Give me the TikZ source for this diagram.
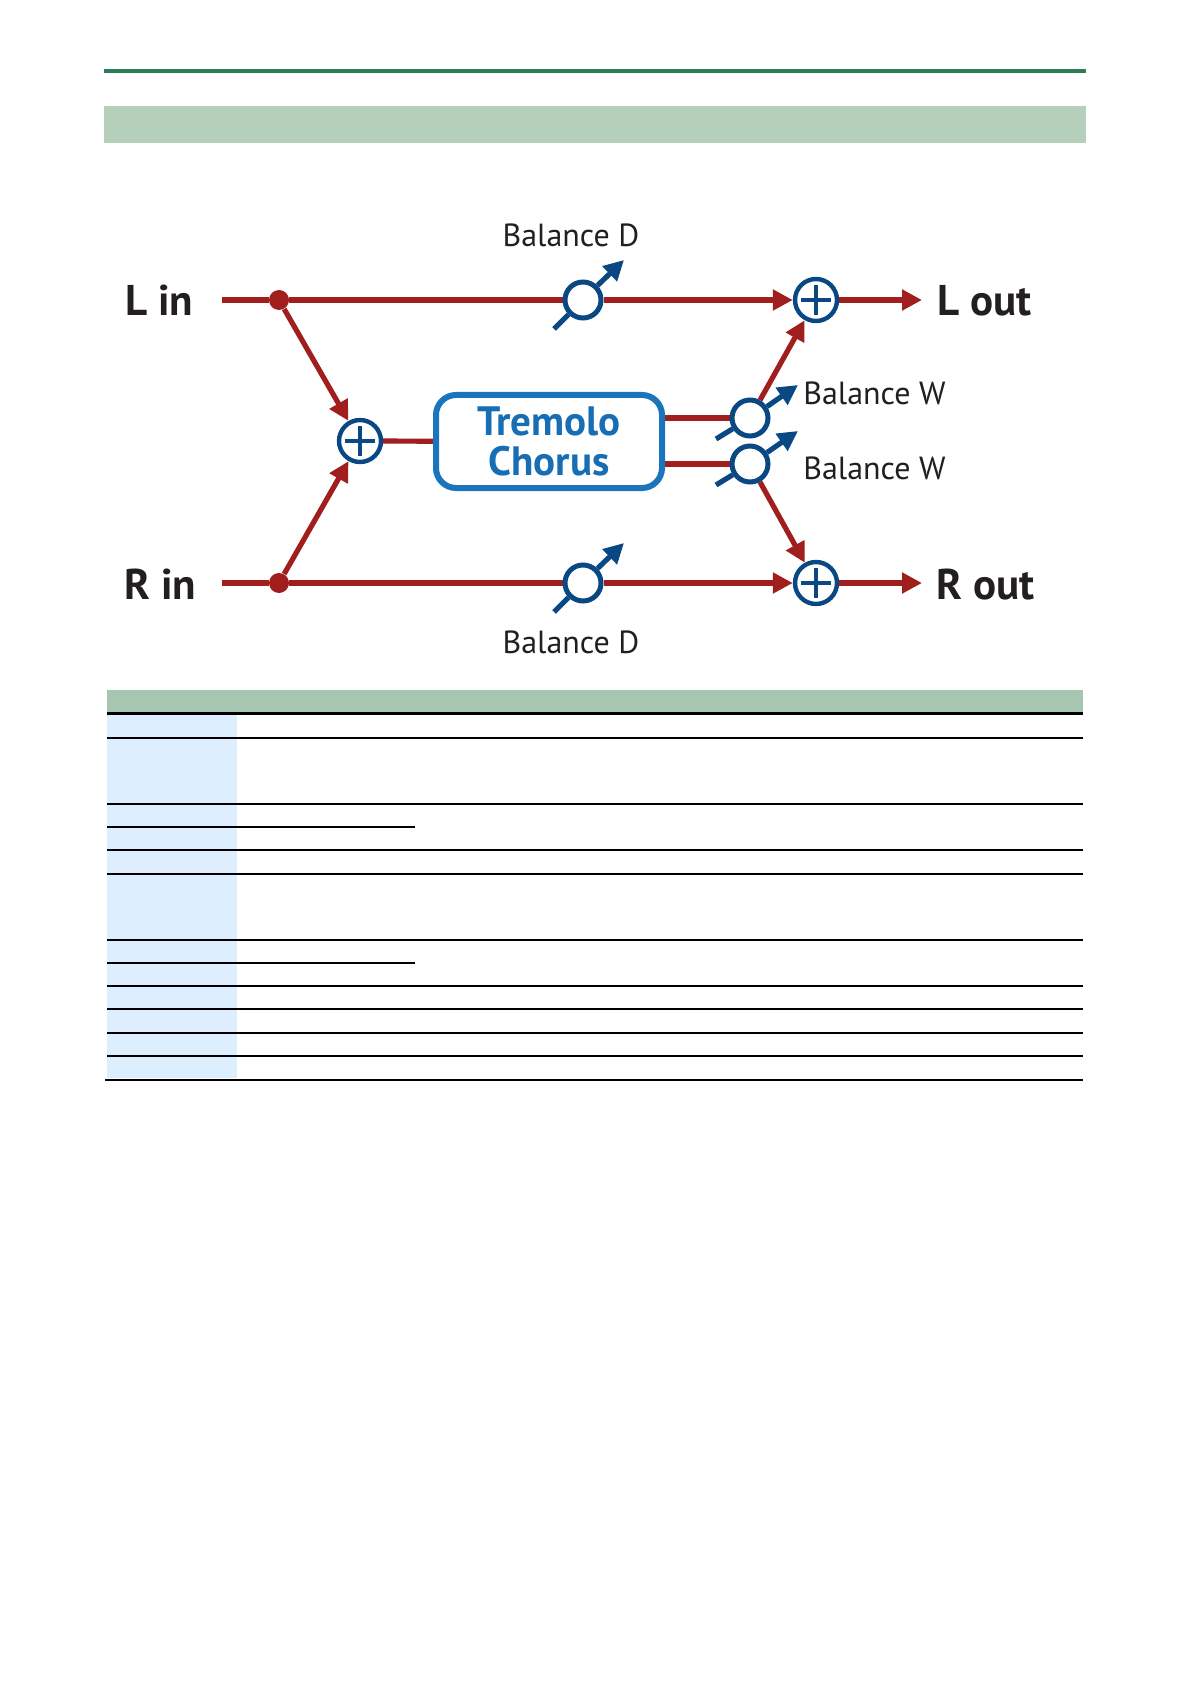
\documentclass[tikz,border=0pt]{standalone}
\usepackage{fontspec}
\setmainfont{PT Sans}
\usetikzlibrary{arrows.meta,calc}
\definecolor{greenrule}{RGB}{42,125,85}
\definecolor{headband}{RGB}{180,207,186}
\definecolor{tablehead}{RGB}{167,198,178}
\definecolor{leftcol}{RGB}{221,238,254}
\definecolor{sigred}{RGB}{160,30,30}
\definecolor{knobblue}{RGB}{10,72,132}
\definecolor{boxblue}{RGB}{27,117,188}
\definecolor{textblue}{RGB}{24,110,180}
\definecolor{textblack}{RGB}{35,31,32}
\pgfdeclarelayer{bg}
\pgfsetlayers{bg,main}
\tikzset{
  sig/.style={line width=2.6pt, draw=sigred},
  sigarrow/.style={sig, -{Triangle[length=10pt,width=10pt]}},
  knobnode/.style={circle, draw=knobblue, line width=2.5pt, fill=white, minimum size=18pt, inner sep=0pt},
  adder/.style={circle, draw=knobblue, line width=2.2pt, fill=white, minimum size=21pt, inner sep=0pt,
    path picture={
      \draw[knobblue, line width=2pt] ([xshift=-7.5pt]path picture bounding box.center) -- ([xshift=7.5pt]path picture bounding box.center);
      \draw[knobblue, line width=2pt] ([yshift=-7.5pt]path picture bounding box.center) -- ([yshift=7.5pt]path picture bounding box.center);
    }},
  splitdot/.style={circle, fill=sigred, minimum size=10pt, inner sep=0pt},
  knobline/.style={draw=knobblue, line width=2.6pt},
  knobarrow/.style={knobline, -{Triangle[length=10pt,width=10pt]}},
  iolabel/.style={anchor=base west, inner sep=0pt, text=textblack, font=\fontsize{21.5}{24}\selectfont\bfseries},
  ballabel/.style={inner sep=0pt, text=textblack, font=\fontsize{16}{18}\selectfont},
  fxbox/.style={rectangle, rounded corners=10pt, draw=boxblue, line width=3pt, fill=white,
    minimum width=113pt, minimum height=46.5pt, align=center, text=textblue,
    font=\fontsize{20.5}{20}\selectfont\bfseries},
  rowline/.style={draw=black, line width=0.6pt},
}
\begin{document}
\begin{tikzpicture}[x=0.5pt, y=-0.5pt]
\useasboundingbox (0,0) rectangle (1191,1684);
% page header
\fill[greenrule] (104,69) rectangle (1086,73);
\fill[headband] (104,106) rectangle (1086,143);

% diagram nodes
\coordinate (Lstart) at (222,300);
\coordinate (Rstart) at (222,583);
\node[splitdot] (Ldot) at (279,300) {};
\node[splitdot] (Rdot) at (279,583) {};
\node[adder] (aM) at (360,441) {};
\node[fxbox] (fx) at (549,441.5) {Tremolo\\Chorus};
\node[knobnode] (kD1) at (583,300) {};
\node[knobnode] (kD2) at (583,583) {};
\node[knobnode] (kW1) at (750,418) {};
\node[knobnode] (kW2) at (750,464) {};
\node[adder] (aL) at (816,300) {};
\node[adder] (aR) at (816,583) {};
\coordinate (Ltip) at (922,300);
\coordinate (Rtip) at (922,583);

% labels
\node[iolabel] (Lin) at (125,316) {L in};
\node[iolabel] (Rin) at (124,599) {R in};
\node[iolabel] (Lout) at (937,316) {L out};
\node[iolabel] (Rout) at (936,599) {R out};
\node[ballabel, anchor=base] (bD1) at (571,247) {Balance D};
\node[ballabel, anchor=base] (bD2) at (571,653) {Balance D};
\node[ballabel, anchor=base west] (bW1) at (803,405) {Balance W};
\node[ballabel, anchor=base west] (bW2) at (803,480) {Balance W};

% connectors
\begin{pgfonlayer}{bg}
\draw[sig] (Lstart) -- (Ldot) -- (kD1);
\draw[sig] (Rstart) -- (Rdot) -- (kD2);
\draw[sigarrow] (kD1) -- (aL);
\draw[sigarrow] (kD2) -- (aR);
\draw[sigarrow] (aL) -- (Ltip);
\draw[sigarrow] (aR) -- (Rtip);
\draw[sigarrow] (Ldot) -- (aM);
\draw[sigarrow] (Rdot) -- (aM);
\draw[sig] (aM) -- (fx);
\draw[sig] (fx.east |- kW1) -- (kW1);
\draw[sig] (fx.east |- kW2) -- (kW2);
\draw[sigarrow] (kW1) -- (aL);
\draw[sigarrow] (kW2) -- (aR);
\end{pgfonlayer}

% knob handles and arrows
\draw[knobline] ($(kD1.center)+(-29,29)$) -- (kD1.225);
\draw[knobarrow] (kD1.45) -- ($(kD1.center)+(41,-40)$);
\draw[knobline] ($(kD2.center)+(-29,29)$) -- (kD2.225);
\draw[knobarrow] (kD2.45) -- ($(kD2.center)+(41,-40)$);
\draw[knobline] ($(kW1.center)+(-34,21)$) -- (kW1.212);
\draw[knobarrow] (kW1.34) -- ($(kW1.center)+(48,-33)$);
\draw[knobline] ($(kW2.center)+(-34,21)$) -- (kW2.212);
\draw[knobarrow] (kW2.34) -- ($(kW2.center)+(48,-33)$);

% parameter table
\fill[tablehead] (107,690) rectangle (1083,713);
\fill[leftcol] (107,714) rectangle (237,1078);
\draw[line width=1.2pt] (107,713.5) -- (1083,713.5);
\foreach \yy in {738,804,850,874,940,986,1009,1033,1056}
  \draw[rowline] (107,\yy) -- (1083,\yy);
\foreach \yy in {827,963}
  \draw[rowline] (107,\yy) -- (415,\yy);
\draw[rowline] (105,1080) -- (1083,1080);
\end{tikzpicture}
\end{document}
